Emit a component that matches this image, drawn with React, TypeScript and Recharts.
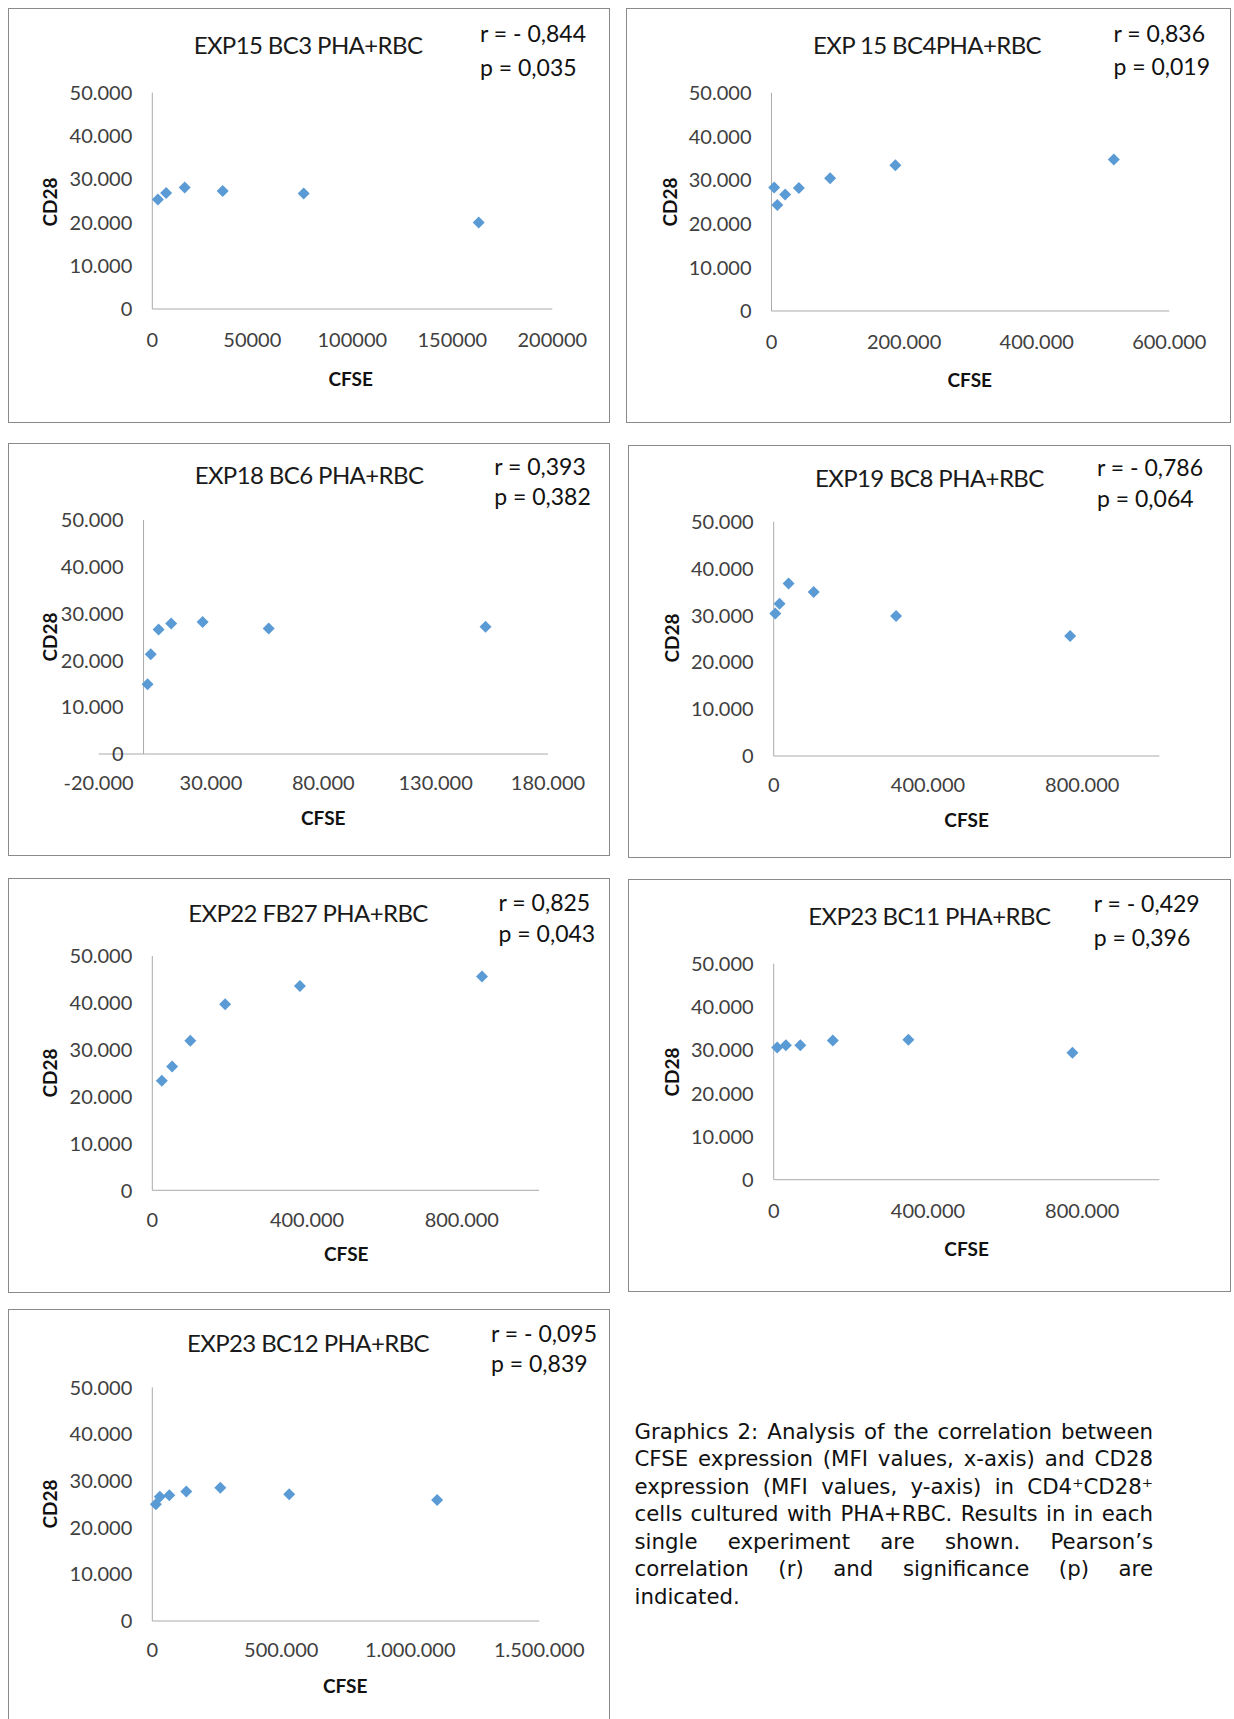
import React from "react";
import { ScatterChart, Scatter, XAxis, YAxis, ReferenceLine } from "recharts";

// CD28 vs CFSE (MFI) per experiment
const bc3Cfse = [2800, 6900, 16200, 35200, 75700, 163200];
const bc3Cd28 = [25300, 26800, 28100, 27300, 26700, 20000];

const bc4Cfse = [4100, 8800, 20600, 41300, 88400, 186800, 516300];
const bc4Cd28 = [28300, 24300, 26700, 28200, 30400, 33400, 34700];

const bc6Cfse = [1800, 3200, 6700, 12300, 26300, 55700, 152200];
const bc6Cd28 = [14900, 21300, 26600, 27900, 28200, 26800, 27200];

const bc8Cfse = [4100, 15200, 38600, 103700, 317200, 768500];
const bc8Cd28 = [30400, 32500, 36800, 35000, 29900, 25600];

const fb27Cfse = [24600, 51200, 98200, 188200, 381600, 852200];
const fb27Cd28 = [23400, 26400, 31900, 39700, 43600, 45600];

const bc11Cfse = [9100, 31500, 69000, 153300, 349200, 774600];
const bc11Cd28 = [30600, 31100, 31100, 32200, 32400, 29400];

const bc12Cfse = [13800, 29100, 66000, 131900, 263800, 530700, 1104300];
const bc12Cd28 = [25000, 26600, 26900, 27700, 28500, 27100, 25900];

const yTicks = [0, 10000, 20000, 30000, 40000, 50000];
const bc3Ticks = [0, 50000, 100000, 150000, 200000];
const bc4Ticks = [0, 200000, 400000, 600000];
const bc6Ticks = [-20000, 30000, 80000, 130000, 180000];
const millionTicks = [0, 400000, 800000];
const bc12Ticks = [0, 500000, 1000000, 1500000];

const BLUE = "#5B9BD5";
const AXIS = "#ABABAB";
const FONT = "Lato, 'Noto Sans', sans-serif";

const dotted = (n: number) => n.toLocaleString("de-DE");
const plain = (n: number) => String(n);

const zip = (xs: number[], ys: number[]) => xs.map((x, i) => ({ x, y: ys[i] }));

const panels = [
  {
    title: "EXP15 BC3 PHA+RBC", r: "r = - 0,844", p: "p = 0,035",
    xs: bc3Cfse, ys: bc3Cd28, ticks: bc3Ticks, domain: [0, 200000], fmt: plain,
    box: { left: 8, top: 8, w: 602, h: 415 },
    plot: { l: 144.3, r: 544.3, t: 84.7, b: 301 }, tickMargin: 24,
    titleAt: [300, 37], rAt: [472, 25.3], pY: 58.7, cd28At: [41.3, 193.7], cfseAt: [342.7, 370.3],
  },
  {
    title: "EXP 15 BC4PHA+RBC", r: "r = 0,836", p: "p = 0,019",
    xs: bc4Cfse, ys: bc4Cd28, ticks: bc4Ticks, domain: [0, 600000], fmt: dotted,
    box: { left: 626, top: 8, w: 605, h: 415 },
    plot: { l: 145.5, r: 543.3, t: 84.7, b: 303 }, tickMargin: 23.7,
    titleAt: [301, 37], rAt: [487.4, 25.3], pY: 57.7, cd28At: [42.5, 193.7], cfseAt: [343.8, 371.3],
  },
  {
    title: "EXP18 BC6 PHA+RBC", r: "r = 0,393", p: "p = 0,382",
    xs: bc6Cfse, ys: bc6Cd28, ticks: bc6Ticks, domain: [-20000, 180000], fmt: dotted,
    box: { left: 8, top: 443, w: 602, h: 413 },
    plot: { l: 90.6, r: 540, t: 77, b: 311 }, tickMargin: 21.7,
    titleAt: [301, 32], rAt: [486.2, 22.7], pY: 53, cd28At: [41.3, 193.7], cfseAt: [315.3, 373.7],
  },
  {
    title: "EXP19 BC8 PHA+RBC", r: "r = - 0,786", p: "p = 0,064",
    xs: bc8Cfse, ys: bc8Cd28, ticks: millionTicks, domain: [0, 1000000], fmt: dotted,
    box: { left: 628, top: 445, w: 603, h: 413 },
    plot: { l: 145.7, r: 531.4, t: 76.7, b: 311 }, tickMargin: 21.3,
    titleAt: [301.3, 32.7], rAt: [469, 22.3], pY: 52.7, cd28At: [42.7, 193.3], cfseAt: [338.6, 374],
  },
  {
    title: "EXP22 FB27 PHA+RBC", r: "r = 0,825", p: "p = 0,043",
    xs: fb27Cfse, ys: fb27Cd28, ticks: millionTicks, domain: [0, 1000000], fmt: dotted,
    box: { left: 8, top: 878, w: 602, h: 415 },
    plot: { l: 144.3, r: 531.2, t: 78, b: 312.3 }, tickMargin: 22,
    titleAt: [300, 34.7], rAt: [490.6, 24.3], pY: 54.7, cd28At: [41.3, 195.3], cfseAt: [338.3, 375.3],
  },
  {
    title: "EXP23 BC11 PHA+RBC", r: "r = - 0,429", p: "p = 0,396",
    xs: bc11Cfse, ys: bc11Cd28, ticks: millionTicks, domain: [0, 1000000], fmt: dotted,
    box: { left: 628, top: 879, w: 603, h: 413 },
    plot: { l: 145.7, r: 531.4, t: 84.7, b: 300.7 }, tickMargin: 24,
    titleAt: [301.3, 37], rAt: [465.7, 24.3], pY: 57.7, cd28At: [42.7, 192.7], cfseAt: [338.6, 369.3],
  },
  {
    title: "EXP23 BC12 PHA+RBC", r: "r = - 0,095", p: "p = 0,839",
    xs: bc12Cfse, ys: bc12Cd28, ticks: bc12Ticks, domain: [0, 1500000], fmt: dotted,
    box: { left: 8, top: 1309, w: 602, h: 430 },
    plot: { l: 144.3, r: 531.2, t: 78.3, b: 312 }, tickMargin: 22,
    titleAt: [300, 34.3], rAt: [483, 24.3], pY: 54.3, cd28At: [41.3, 195], cfseAt: [337.2, 376],
  },
];

const captionLines = [
  "Graphics 2: Analysis of the correlation between",
  "CFSE expression (MFI values, x-axis) and CD28",
  "expression (MFI values, y-axis) in CD4\u207ACD28\u207A",
  "cells cultured with PHA+RBC.  Results in in each",
  "single experiment are shown. Pearson\u2019s",
  "correlation (r) and significance (p) are",
  "indicated.",
];

const Diamond = (props: any) => {
  const { cx, cy } = props;
  if (cx == null || cy == null) return null;
  const s = 6;
  return (
    <polygon
      points={`${cx},${cy - s} ${cx + s},${cy} ${cx},${cy + s} ${cx - s},${cy}`}
      fill={BLUE}
    />
  );
};

const YW = 60;
const XH = 30;

function Panel({ cfg }: { cfg: (typeof panels)[number] }) {
  const { box, plot } = cfg;
  const data = zip(cfg.xs, cfg.ys);
  const [d0, d1] = cfg.domain;
  // y axis sits at x = 0, which is not always the plot's left edge
  const zeroX = plot.l + ((0 - d0) / (d1 - d0)) * (plot.r - plot.l);
  const shift = zeroX - plot.l;

  const textBase: React.CSSProperties = {
    position: "absolute",
    whiteSpace: "nowrap",
    lineHeight: 1,
    fontFamily: FONT,
  };

  return (
    <div style={{ position: "absolute", left: box.left, top: box.top, width: box.w, height: box.h }}>
      <ScatterChart
        width={box.w}
        height={box.h}
        margin={{
          top: plot.t,
          right: box.w - plot.r,
          bottom: box.h - plot.b - XH,
          left: plot.l - YW,
        }}
      >
        <XAxis
          type="number"
          dataKey="x"
          domain={cfg.domain}
          ticks={cfg.ticks}
          interval={0}
          height={XH}
          tickFormatter={cfg.fmt}
          axisLine={{ stroke: AXIS, strokeWidth: 1 }}
          tickLine={false}
          tickSize={0}
          tickMargin={cfg.tickMargin}
          tick={{ fill: "#404040", fontSize: 20, fontFamily: FONT }}
        />
        <YAxis
          type="number"
          dataKey="y"
          domain={[0, 50000]}
          ticks={yTicks}
          interval={0}
          width={YW}
          axisLine={false}
          tickLine={false}
          tickSize={0}
          tickMargin={20}
          tick={(p: any) => (
            <text
              key={p.payload.value}
              x={p.x + shift}
              y={p.y}
              dy="0.36em"
              textAnchor="end"
              fill="#404040"
              fontSize={20}
              fontFamily={FONT}
            >
              {dotted(p.payload.value)}
            </text>
          )}
        />
        <ReferenceLine x={0} stroke={AXIS} strokeWidth={1} />
        <Scatter data={data} shape={Diamond} isAnimationActive={false} />
      </ScatterChart>

      <div
        style={{
          ...textBase,
          left: cfg.titleAt[0],
          top: cfg.titleAt[1],
          transform: "translate(-50%, -50%)",
          fontSize: 24,
          letterSpacing: -0.6,
          color: "#1a1a1a",
        }}
      >
        {cfg.title}
      </div>
      <div style={{ ...textBase, left: cfg.rAt[0], top: cfg.rAt[1], transform: "translateY(-50%)", fontSize: 23, color: "#111" }}>
        {cfg.r}
      </div>
      <div style={{ ...textBase, left: cfg.rAt[0], top: cfg.pY, transform: "translateY(-50%)", fontSize: 23, color: "#111" }}>
        {cfg.p}
      </div>
      <div
        style={{
          ...textBase,
          left: cfg.cd28At[0],
          top: cfg.cd28At[1],
          transform: "translate(-50%, -50%) rotate(-90deg)",
          fontSize: 19,
          fontWeight: 700,
          color: "#111",
        }}
      >
        CD28
      </div>
      <div
        style={{
          ...textBase,
          left: cfg.cfseAt[0],
          top: cfg.cfseAt[1],
          transform: "translate(-50%, -50%)",
          fontSize: 19,
          fontWeight: 700,
          color: "#111",
        }}
      >
        CFSE
      </div>
      <div
        style={{
          position: "absolute",
          inset: 0,
          border: "1px solid #8a8a8a",
          boxSizing: "border-box",
          pointerEvents: "none",
        }}
      />
    </div>
  );
}

export default function App() {
  return (
    <div style={{ position: "relative", width: 1234, height: 1719, overflow: "hidden", background: "#fff" }}>
      <style>{"body{margin:0;overflow:hidden;}"}</style>
      {panels.map((cfg) => (
        <Panel key={cfg.title} cfg={cfg} />
      ))}
      <div
        style={{
          position: "absolute",
          left: 634.5,
          top: 1417.5,
          width: 518.5,
          fontFamily: "'DejaVu Sans', sans-serif",
          fontSize: 21.3,
          lineHeight: "27.6px",
          color: "#111",
        }}
      >
        {captionLines.map((line, i) => (
          <div
            key={i}
            style={{
              whiteSpace: "nowrap",
              textAlign: "justify",
              textAlignLast: i < captionLines.length - 1 ? "justify" : "left",
            }}
          >
            {line}
          </div>
        ))}
      </div>
    </div>
  );
}
